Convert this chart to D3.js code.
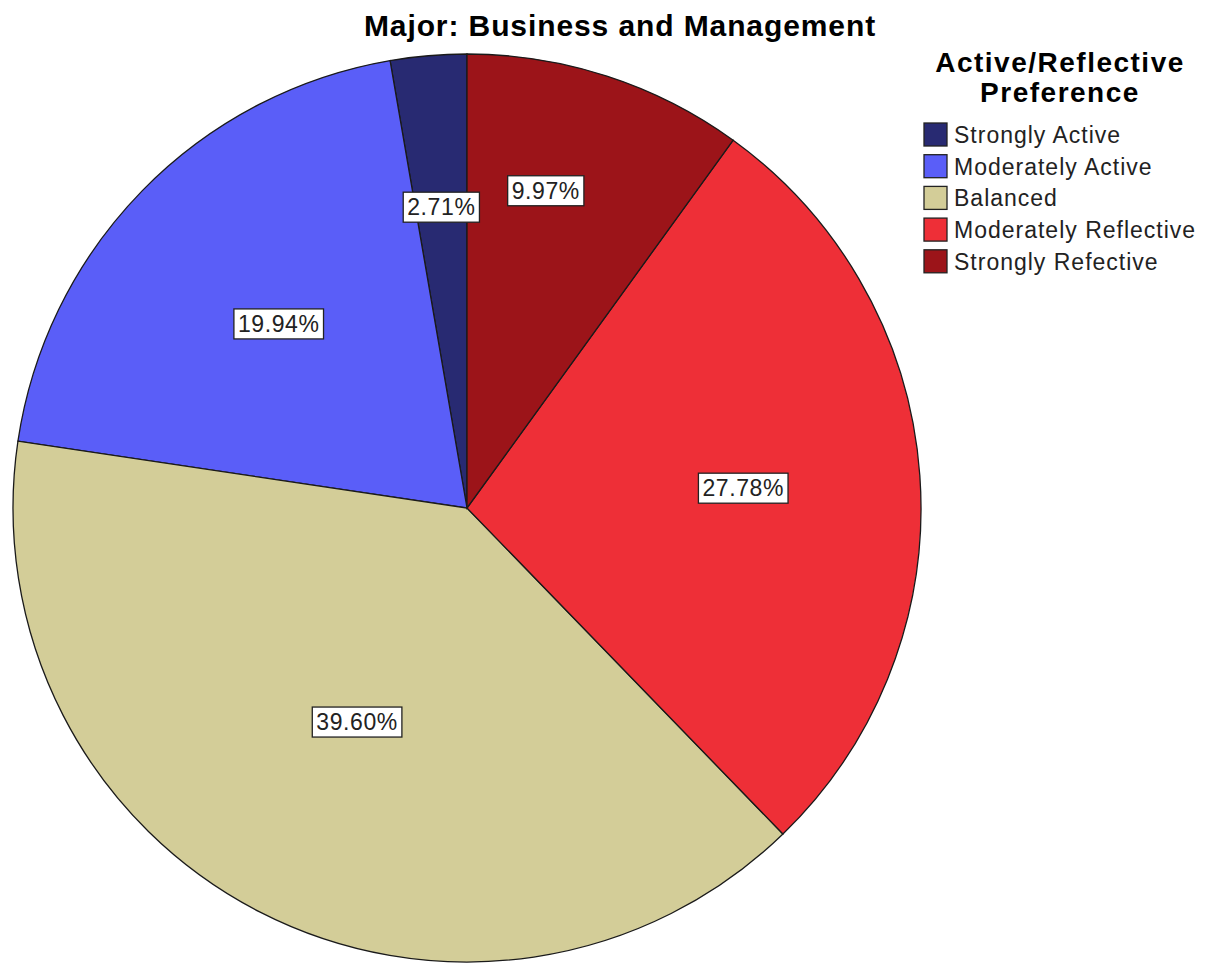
<!DOCTYPE html>
<html>
<head>
<meta charset="utf-8">
<script src="https://cdn.jsdelivr.net/npm/d3@7"></script>
<style>
  body { margin: 0; background: #fff; }
  text { font-family: "Liberation Sans", Arial, sans-serif; }
</style>
</head>
<body>
<div id="chart"></div>
<script>
// data
var categories = ['Strongly Active', 'Moderately Active', 'Balanced', 'Moderately Reflective', 'Strongly Refective'];
var percents = [2.71, 19.94, 39.60, 27.78, 9.97];
var colors = ['#282a72', '#5a5ef8', '#d3cd98', '#ee2f37', '#9c1419'];
// label placement (layout only): share of radius, and angle nudge in degrees
var labelRadius = [0.665, 0.58, 0.53, 0.61, 0.72];
var labelNudge = [0, 0, 0, 0, -4];

var width = 1208, height = 963;
var cx = 467, cy = 508, radius = 454;

var svg = d3.select('#chart').append('svg')
    .attr('width', width)
    .attr('height', height);

// title
svg.append('text')
   .attr('x', 620)
   .attr('y', 36)
   .attr('text-anchor', 'middle')
   .style('font-size', '30px')
   .style('font-weight', 'bold')
   .style('letter-spacing', '0.9px')
   .text('Major: Business and Management');

var pie = d3.pie()
    .sort(null)
    .startAngle(0)
    .endAngle(-2 * Math.PI)
    .value(d => d.value);

var data = categories.map((c, i) => ({ name: c, value: percents[i], color: colors[i], lr: labelRadius[i], nudge: labelNudge[i] }));
var arcs = pie(data);

var arc = d3.arc().innerRadius(0).outerRadius(radius);

var g = svg.append('g').attr('transform', 'translate(' + cx + ',' + cy + ')');

g.selectAll('path.slice')
  .data(arcs)
  .enter().append('path')
  .attr('class', 'slice')
  .attr('d', arc)
  .style('fill', d => d.data.color)
  .style('stroke', '#1a1a1a')
  .style('stroke-width', 1.3);

// percent labels in white boxes
var labels = g.selectAll('g.lbl')
  .data(arcs)
  .enter().append('g')
  .attr('class', 'lbl')
  .attr('transform', d => {
      var r = radius * d.data.lr;
      var a = (d.startAngle + d.endAngle) / 2 + d.data.nudge * Math.PI / 180;
      return 'translate(' + [r * Math.sin(a), -r * Math.cos(a)] + ')';
  });

labels.each(function(d) {
    var sel = d3.select(this);
    var t = sel.append('text')
        .attr('text-anchor', 'middle')
        .attr('dy', '0.36em')
        .style('font-size', '23px')
        .style('letter-spacing', '0.6px')
        .style('fill', '#222')
        .text(d.data.value.toFixed(2) + '%');
    var bb = t.node().getBBox();
    sel.insert('rect', 'text')
       .attr('x', bb.x - 4)
       .attr('y', -15)
       .attr('width', bb.width + 8)
       .attr('height', 30)
       .style('fill', '#fff')
       .style('stroke', '#222')
       .style('stroke-width', 1.3);
});

// legend
var legend = svg.append('g').attr('class', 'legend');
legend.append('text')
   .attr('x', 1060).attr('y', 72)
   .attr('text-anchor', 'middle')
   .style('font-size', '28px')
   .style('font-weight', 'bold')
   .style('letter-spacing', '1.5px')
   .text('Active/Reflective');
legend.append('text')
   .attr('x', 1060).attr('y', 102)
   .attr('text-anchor', 'middle')
   .style('font-size', '28px')
   .style('font-weight', 'bold')
   .style('letter-spacing', '1.5px')
   .text('Preference');

var items = legend.selectAll('g.item')
   .data(data)
   .enter().append('g')
   .attr('class', 'item')
   .attr('transform', (d, i) => 'translate(924,' + (123 + i * 31.7) + ')');
items.append('rect')
   .attr('width', 23).attr('height', 23)
   .style('fill', d => d.color)
   .style('stroke', '#222')
   .style('stroke-width', 1.3);
items.append('text')
   .attr('x', 30).attr('y', 20)
   .style('font-size', '23px')
   .style('letter-spacing', '1px')
   .style('fill', '#222')
   .text(d => d.name);
</script>
</body>
</html>
